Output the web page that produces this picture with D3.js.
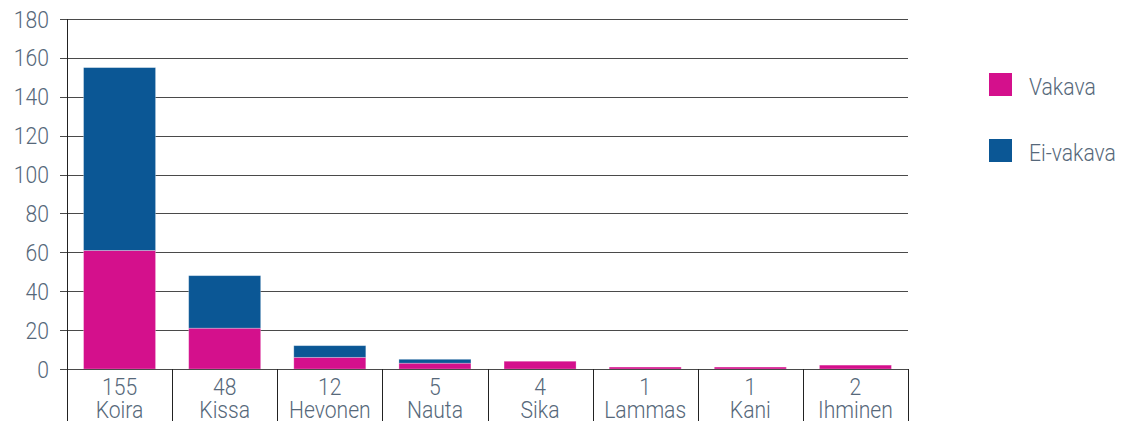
<!DOCTYPE html>
<html><head><meta charset="utf-8">
<script src="https://cdn.jsdelivr.net/npm/d3@7/dist/d3.min.js"></script>
<style>
body{margin:0;background:#fff;}
text{font-family:Roboto,"Liberation Sans",sans-serif;font-weight:300;fill:#56687a;}
</style></head><body>
<svg id="c" width="1127" height="421"></svg>
<script>
const categories = ["Koira","Kissa","Hevonen","Nauta","Sika","Lammas","Kani","Ihminen"];
const totals = [155,48,12,5,4,1,1,2];
const vakava = [61,21,6,3,4,1,1,2];
const eiVakava = [94,27,6,2,0,0,0,0];
const seriesNames = ["Vakava","Ei-vakava"];
const yTicks = [0,20,40,60,80,100,120,140,160,180];
const colors = ["#d4108c","#0b5795"];

const svg = d3.select("#c");
const m = {l:67, r:908, t:19, b:369};
const x = d3.scaleBand().domain(categories).range([m.l, m.r]).paddingInner(0).paddingOuter(0);
const y = d3.scaleLinear().domain([0,180]).range([m.b, m.t]);
const FS = 24, SX = 0.88;
const tr = (px,py)=>`translate(${px},${py}) scale(${SX},1)`;

// gridlines
svg.append("g").selectAll("line").data(yTicks).join("line")
  .attr("x1", 60).attr("x2", m.r)
  .attr("y1", d=>Math.round(y(d))+0.5).attr("y2", d=>Math.round(y(d))+0.5)
  .attr("stroke", "#4a4a4a").attr("stroke-width", 1);

// y tick labels
svg.append("g").selectAll("text").data(yTicks).join("text")
  .attr("transform", d=>tr(49, y(d)+8.5))
  .attr("text-anchor","end").attr("font-size", FS).text(d=>d);

// stacked data
const data = categories.map((c,i)=>({cat:c, Vakava:vakava[i], "Ei-vakava":eiVakava[i]}));
const stack = d3.stack().keys(seriesNames)(data);
const bw = x.bandwidth()*0.685;
svg.append("g").selectAll("g").data(stack).join("g")
  .attr("fill", (d,i)=>colors[i])
  .selectAll("rect").data(d=>d.filter(p=>p[1]-p[0]>0)).join("rect")
  .attr("x", d=>x(d.data.cat)+(x.bandwidth()-bw)/2)
  .attr("width", bw)
  .attr("y", d=>y(d[1]))
  .attr("height", d=>y(d[0])-y(d[1]))
  .attr("stroke", "rgba(255,255,255,0.35)").attr("stroke-width", 0.8);

// axis baseline and separators
svg.append("line").attr("x1",m.l).attr("x2",m.r).attr("y1",m.b+0.5).attr("y2",m.b+0.5).attr("stroke","#4a4a4a");
const seps = categories.map(c=>x(c)).concat([m.r]);
svg.append("g").selectAll("line").data(seps).join("line")
  .attr("x1", d=>Math.round(d)+0.5).attr("x2", d=>Math.round(d)+0.5)
  .attr("y1", (d,i)=>i===0?m.t:m.b).attr("y2", 421)
  .attr("stroke","#222").attr("stroke-width",1);

// x labels
const xl = svg.append("g").selectAll("g").data(categories).join("g");
xl.append("text").attr("transform", d=>tr(x(d)+x.bandwidth()/2, 395)).attr("text-anchor","middle").attr("font-size",FS).text((d,i)=>totals[i]);
xl.append("text").attr("transform", d=>tr(x(d)+x.bandwidth()/2, 418)).attr("text-anchor","middle").attr("font-size",FS).text(d=>d);

// legend
const lg = svg.append("g").selectAll("g").data(seriesNames).join("g")
  .attr("transform",(d,i)=>`translate(989,${73+i*66})`);
lg.append("rect").attr("width",23).attr("height",23).attr("fill",(d,i)=>colors[i]);
lg.append("text").attr("transform", tr(40,22)).attr("font-size",FS).text(d=>d);
</script>
</body></html>
